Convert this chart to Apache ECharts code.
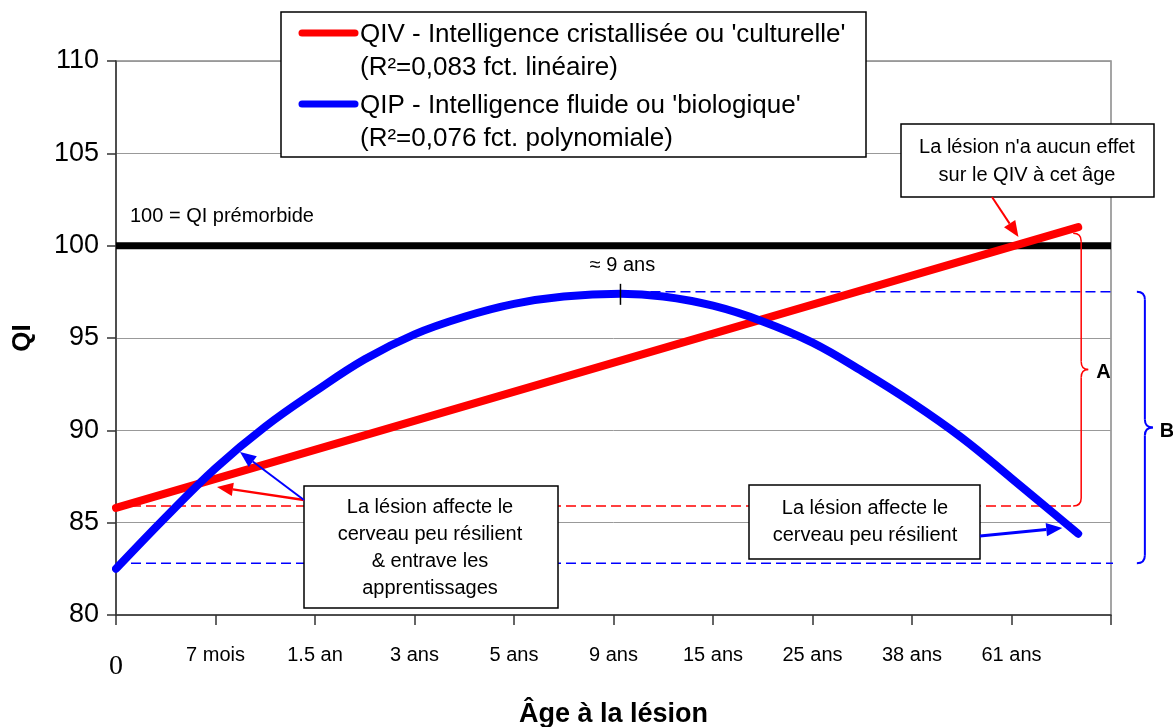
<!DOCTYPE html>
<html>
<head>
<meta charset="utf-8">
<script src="https://cdn.jsdelivr.net/npm/echarts@6/dist/echarts.min.js"></script>
<style>
    html, body { margin: 0; padding: 0; background: #fff; }
    #chart { width: 1173px; height: 727px; }
</style>
</head>
<body>
<div id="chart"></div>
<script>
// étiquettes de l'axe des âges, une par graduation
var ageLabels = ['0', '7 mois', '1.5 an', '3 ans', '5 ans', '9 ans', '15 ans', '25 ans', '38 ans', '61 ans', ''];

// QIV - droite (position sur l'axe des âges, QI)
var qivX = [0, 9.67];
var qivY = [85.8, 101.0];

// QIP - courbe polynomiale
var qipX = [0, 0.5, 1.0, 1.5, 2.0, 2.5, 3.0, 3.5, 4.0, 4.5, 5.07, 5.5, 6.0, 6.5, 7.0, 7.5, 8.0, 8.5, 9.0, 9.67];
var qipY = [82.5, 85.3, 87.95, 90.2, 92.1, 93.85, 95.2, 96.15, 96.85, 97.25, 97.4, 97.25, 96.75, 95.9, 94.75, 93.2, 91.5, 89.6, 87.4, 84.4];

// niveaux de référence
var premorbid = 100;
var qivLow = 85.9;      // début de la droite QIV (pointillé rouge)
var qipLow = 82.8;      // début de la courbe QIP (pointillé bleu bas)
var qipPeak = 97.5;     // sommet QIP (pointillé bleu haut)
var peakAge = 5.07;     // ≈ 9 ans

var FONT = 'Liberation Sans';

function pairs(xs, ys) {
    var out = [];
    for (var i = 0; i < xs.length; i++) out.push([xs[i], ys[i]]);
    return out;
}

var myChart = echarts.init(document.getElementById('chart'));

var option = {
    animation: false,
    backgroundColor: '#fff',
    grid: {
        left: 116, right: 62, top: 61, bottom: 112,
        outerBoundsMode: 'none', containLabel: false,
        show: true, borderColor: '#888', borderWidth: 1.5
    },
    xAxis: {
        type: 'value', min: 0, max: 10, interval: 1,
        name: 'Âge à la lésion', nameLocation: 'middle', nameGap: 86,
        nameTextStyle: {fontFamily: FONT, fontSize: 27, fontWeight: 'bold', color: '#000'},
        axisLine: {lineStyle: {color: '#333', width: 1.5}},
        axisTick: {length: 10, lineStyle: {color: '#333', width: 1.5}},
        splitLine: {show: false},
        axisLabel: {
            margin: 30, showMinLabel: true, showMaxLabel: true,
            fontFamily: FONT, fontSize: 20, color: '#000',
            formatter: function (v) {
                var s = ageLabels[Math.round(v)];
                return v === 0 ? '{z|' + s + '}' : s;
            },
            rich: {z: {fontFamily: 'Liberation Serif', fontSize: 28, color: '#000', padding: [8, 0, 0, 0]}}
        }
    },
    yAxis: {
        type: 'value', min: 80, max: 110, interval: 5,
        name: 'QI', nameLocation: 'middle', nameGap: 80, nameRotate: 90,
        nameTextStyle: {fontFamily: FONT, fontSize: 26, fontWeight: 'bold', color: '#000'},
        axisLine: {show: true, lineStyle: {color: '#333', width: 1.5}},
        axisTick: {show: true, length: 9, lineStyle: {color: '#333', width: 1.5}},
        splitLine: {lineStyle: {color: '#999', width: 1}},
        axisLabel: {margin: 17, fontFamily: FONT, fontSize: 27, color: '#000'}
    },
    series: [
        {
            name: 'prémorbide', type: 'line', showSymbol: false, z: 3,
            data: [[0, premorbid], [10, premorbid]],
            lineStyle: {color: '#000', width: 7}
        },
        {
            name: 'qiv bas', type: 'line', showSymbol: false, z: 2,
            data: [[0, qivLow], [9.62, qivLow]],
            lineStyle: {color: '#f00', width: 1.5, type: [10, 5]}
        },
        {
            name: 'qip bas', type: 'line', showSymbol: false, z: 2, clip: false,
            data: [[0, qipLow], [10.26, qipLow]],
            lineStyle: {color: '#00f', width: 1.5, type: [10, 5]}
        },
        {
            name: 'qip haut', type: 'line', showSymbol: false, z: 2, clip: false,
            data: [[peakAge, qipPeak], [10.26, qipPeak]],
            lineStyle: {color: '#00f', width: 1.5, type: [10, 5]}
        },
        {
            name: 'QIV', type: 'line', showSymbol: false, z: 4,
            data: pairs(qivX, qivY),
            lineStyle: {color: '#f00', width: 8, cap: 'round'}
        },
        {
            name: 'QIP', type: 'line', showSymbol: false, z: 5, smooth: 0.4,
            data: pairs(qipX, qipY),
            lineStyle: {color: '#00f', width: 8, cap: 'round'}
        }
    ]
};
myChart.setOption(option);

// annotations (légende, encadrés, flèches, accolades)
function px(x, y) {
    return myChart.convertToPixel({gridIndex: 0}, [x, y]);
}

function txt(s, x, y, size, opts) {
    opts = opts || {};
    return {
        type: 'text', z: 60,
        style: {
            text: s, x: x, y: y, fill: opts.color || '#000',
            fontFamily: FONT, fontSize: size, fontWeight: opts.bold ? 'bold' : 'normal',
            align: opts.align || 'left', verticalAlign: 'middle'
        }
    };
}

function box(x, y, w, h) {
    return {
        type: 'rect', z: 55,
        shape: {x: x, y: y, width: w, height: h},
        style: {fill: '#fff', stroke: '#000', lineWidth: 1.5}
    };
}

function seg(x1, y1, x2, y2, color, w) {
    return {type: 'line', z: 58, shape: {x1: x1, y1: y1, x2: x2, y2: y2}, style: {stroke: color, lineWidth: w}};
}

function curve(x1, y1, cx, cy, x2, y2, color, w) {
    return {type: 'bezierCurve', z: 58,
        shape: {x1: x1, y1: y1, x2: x2, y2: y2, cpx1: cx, cpy1: cy},
        style: {fill: null, stroke: color, lineWidth: w}};
}

function arrow(from, to, color, w, head) {
    var dx = to[0] - from[0], dy = to[1] - from[1];
    var len = Math.sqrt(dx * dx + dy * dy);
    var ux = dx / len, uy = dy / len;
    var bx = to[0] - ux * head, by = to[1] - uy * head;
    var hw = head * 0.42;
    return [
        seg(from[0], from[1], bx, by, color, w),
        {type: 'polygon', z: 58, shape: {points: [[to[0], to[1]], [bx - uy * hw, by + ux * hw], [bx + uy * hw, by - ux * hw]]},
            style: {fill: color}}
    ];
}

function brace(x0, xv, xt, yTop, yBot, color, w) {
    var ym = (yTop + yBot) / 2;
    var r = 8;
    return [
        curve(x0, yTop, xv, yTop, xv, yTop + r, color, w),
        seg(xv, yTop + r, xv, ym - r, color, w),
        curve(xv, ym - r, xv, ym, xt, ym, color, w),
        curve(xt, ym, xv, ym, xv, ym + r, color, w),
        seg(xv, ym + r, xv, yBot - r, color, w),
        curve(xv, yBot - r, xv, yBot, x0, yBot, color, w)
    ];
}

function drawAnnotations() {
    var g = [];

    // légende
    g.push(box(281, 12, 585, 145));
    g.push({type: 'line', z: 60, shape: {x1: 302, y1: 33, x2: 355, y2: 33}, style: {stroke: '#f00', lineWidth: 7, lineCap: 'round'}});
    g.push({type: 'line', z: 60, shape: {x1: 302, y1: 104, x2: 355, y2: 104}, style: {stroke: '#00f', lineWidth: 7, lineCap: 'round'}});
    g.push(txt("QIV - Intelligence cristallisée ou 'culturelle'", 360, 35, 26));
    g.push(txt('(R²=0,083 fct. linéaire)', 360, 68, 26));
    g.push(txt("QIP - Intelligence fluide ou 'biologique'", 360, 106, 26));
    g.push(txt('(R²=0,076 fct. polynomiale)', 360, 139, 26));

    // ligne prémorbide
    g.push(txt('100 = QI prémorbide', 130, 216, 20));

    // sommet ≈ 9 ans
    var pk = px(peakAge, qipPeak);
    g.push(seg(pk[0], pk[1] - 8, pk[0], pk[1] + 13, '#000', 1.5));
    g.push(txt('≈ 9 ans', pk[0] + 2, 265, 20, {align: 'center'}));

    // accolade A (rouge)
    var redEnd = px(qivX[1], qivY[1]);
    var redLow = px(9.62, qivLow);
    g = g.concat(brace(redLow[0], redLow[0] + 8, redLow[0] + 15, redEnd[1] + 6, redLow[1], '#f00', 1.5));
    g.push(txt('A', redLow[0] + 23, (redEnd[1] + 6 + redLow[1]) / 2 + 3, 20, {bold: true}));

    // accolade B (bleue)
    var bTop = px(10.26, qipPeak);
    var bBot = px(10.26, qipLow);
    g = g.concat(brace(bTop[0], bTop[0] + 8, bTop[0] + 16, bTop[1], bBot[1], '#00f', 2));
    g.push(txt('B', bTop[0] + 23, (bTop[1] + bBot[1]) / 2 + 4, 20, {bold: true}));

    // encadré haut droit
    g.push(box(901, 124, 253, 73));
    g.push(txt("La lésion n'a aucun effet", 1027, 147, 20, {align: 'center'}));
    g.push(txt('sur le QIV à cet âge', 1027, 175, 20, {align: 'center'}));
    g = g.concat(arrow([992, 197], px(9.07, 100.47), '#f00', 2, 16));

    // encadré bas gauche
    g.push(box(304, 486, 254, 122));
    g.push(txt('La lésion affecte le', 430, 507, 20, {align: 'center'}));
    g.push(txt('cerveau peu résilient', 430, 534, 20, {align: 'center'}));
    g.push(txt('& entrave les', 430, 561, 20, {align: 'center'}));
    g.push(txt('apprentissages', 430, 588, 20, {align: 'center'}));
    g = g.concat(arrow([304, 500], px(1.015, 86.93), '#f00', 2.5, 16));
    g = g.concat(arrow([304, 500], px(1.246, 88.83), '#00f', 2, 16));

    // encadré bas droit
    g.push(box(749, 485, 231, 74));
    g.push(txt('La lésion affecte le', 865, 508, 20, {align: 'center'}));
    g.push(txt('cerveau peu résilient', 865, 535, 20, {align: 'center'}));
    g = g.concat(arrow([980, 536], px(9.51, 84.71), '#00f', 3, 16));

    myChart.setOption({graphic: {elements: g}});
}
drawAnnotations();

window.addEventListener('resize', function () {
    myChart.resize();
    drawAnnotations();
});
</script>
</body>
</html>
